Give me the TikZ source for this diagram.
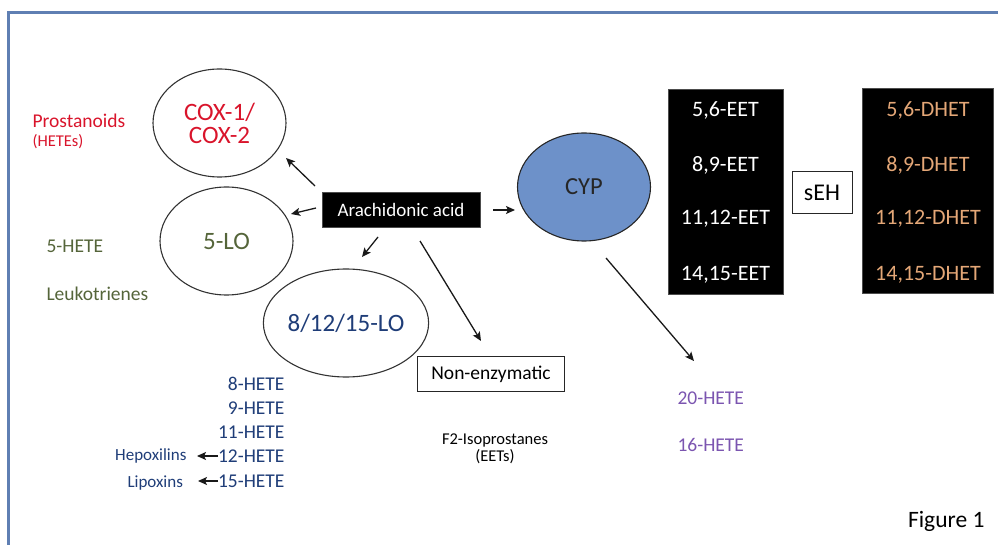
\documentclass[tikz,border=0pt]{standalone}
\usepackage{fontspec}
\setmainfont{Carlito}
\usetikzlibrary{shapes.geometric,arrows.meta}
\definecolor{frameblue}{HTML}{5F7FB3}
\definecolor{coxred}{HTML}{D9142B}
\definecolor{olive}{HTML}{55653A}
\definecolor{navy}{HTML}{1F3D78}
\definecolor{cypblue}{HTML}{6D91C9}
\definecolor{hetepurple}{HTML}{7B55B0}
\definecolor{tan}{HTML}{E4A777}
\tikzset{
  enz/.style={ellipse, draw=black!80, line width=1.1pt, minimum width=133pt, minimum height=108pt, inner sep=0pt, align=center},
  blackbox/.style={fill=black, draw=black!70, inner sep=0pt},
  arr/.style={-{Stealth[length=9pt,width=8pt,inset=2pt]}, line width=1.3pt, black!90},
  fs/.style={font=\fontsize{#1}{#1}\selectfont},
}
\begin{document}
\begin{tikzpicture}[x=1pt,y=-1pt]
\useasboundingbox (0,0) rectangle (998,545);
% frame
\draw[frameblue, line width=2.5pt] (8.5,545) -- (8.5,12.5) -- (998,12.5);

% enzymes
\node[enz, fs=25, text=coxred, align=center] (cox) at (219.5,123) {COX-1/\\[-2pt]COX-2};
\node[enz, fs=25, text=olive] (lo5) at (226.5,241) {5-LO};
\node[enz, fs=25, text=navy] (lo8) at (346,323) {8/12/15-LO};
\node[enz, fill=cypblue, draw=black!85, fs=24.5, text=black!85] (cyp) at (584,187) {CYP};

% arachidonic acid
\node[blackbox, minimum width=158pt, minimum height=35pt, text=white, fs=19] (aa) at (401,210) {Arachidonic acid};

% non-enzymatic
\node[draw=black!85, line width=1pt, minimum width=147pt, minimum height=35pt, inner sep=0pt, fs=19.5] (ne) at (491,374) {Non-enzymatic};
\node[fs=16.5, align=center] (f2) at (495,449) {F2-Isoprostanes\\(EETs)};

% left product labels
\node[fs=19.5, text=coxred, anchor=west] (pros) at (29,121) {Prostanoids};
\node[fs=16.5, text=coxred, anchor=west] (hetes) at (29,142) {(HETEs)};
\node[fs=19.5, text=olive, anchor=west] (h5) at (43,246) {5-HETE};
\node[fs=19.5, text=olive, anchor=west] (leu) at (43,294) {Leukotrienes};

% HETE list
\node[fs=19.5, text=navy, anchor=east] (h8) at (288,384) {8-HETE};
\node[fs=19.5, text=navy, anchor=east] (h9) at (288,408) {9-HETE};
\node[fs=19.5, text=navy, anchor=east] (h11) at (288,432) {11-HETE};
\node[fs=19.5, text=navy, anchor=east] (h12) at (288,456) {12-HETE};
\node[fs=19.5, text=navy, anchor=east] (h15) at (288,481) {15-HETE};
\node[fs=17, text=navy, anchor=east] (hep) at (190,456) {Hepoxilins};
\node[fs=17, text=navy, anchor=east] (lip) at (186.5,483) {Lipoxins};

% CYP products
\node[fs=19.5, text=hetepurple, anchor=west] (h20) at (674,398) {20-HETE};
\node[fs=19.5, text=hetepurple, anchor=west] (h16) at (674,445) {16-HETE};

% EET box
\node[blackbox, minimum width=115pt, minimum height=205pt] (eet) at (725.5,191.5) {};
\node[fs=22, text=white] (e1) at (725.5,110) {5,6-EET};
\node[fs=22, text=white] (e2) at (725.5,165) {8,9-EET};
\node[fs=22, text=white] (e3) at (725.5,219) {11,12-EET};
\node[fs=22, text=white] (e4) at (725.5,275) {14,15-EET};

% sEH
\node[draw=black!85, line width=1pt, minimum width=60pt, minimum height=42pt, inner sep=0pt, fs=24] (seh) at (822,193) {sEH};

% DHET box
\node[blackbox, minimum width=131pt, minimum height=205pt] (dhet) at (927.5,190.5) {};
\node[fs=22, text=tan] (d1) at (928,110) {5,6-DHET};
\node[fs=22, text=tan] (d2) at (928,165) {8,9-DHET};
\node[fs=22, text=tan] (d3) at (928,219) {11,12-DHET};
\node[fs=22, text=tan] (d4) at (928,275) {14,15-DHET};

\node[fs=23.5, anchor=east] (fig) at (988,521) {Figure 1};

% arrow end points
\coordinate (a1s) at (315,186); \coordinate (a1e) at (286,158);
\coordinate (a2s) at (316,208); \coordinate (a2e) at (291,214);
\coordinate (a3s) at (378,237); \coordinate (a3e) at (362,257);
\coordinate (a4s) at (420,241); \coordinate (a4e) at (481,341);
\coordinate (a5s) at (493,210); \coordinate (a5e) at (515,210);
\coordinate (a6s) at (606,258); \coordinate (a6e) at (694,361);
\coordinate (a7s) at (218,456); \coordinate (a7e) at (197,456);
\coordinate (a8s) at (218,481); \coordinate (a8e) at (198,481);

\draw[arr] (a1s) -- (a1e);
\draw[arr] (a2s) -- (a2e);
\draw[arr] (a3s) -- (a3e);
\draw[arr] (a4s) -- (a4e);
\draw[arr] (a5s) -- (a5e);
\draw[arr] (a6s) -- (a6e);
\draw[arr] (a7s) -- (a7e);
\draw[arr] (a8s) -- (a8e);
\end{tikzpicture}
\end{document}
